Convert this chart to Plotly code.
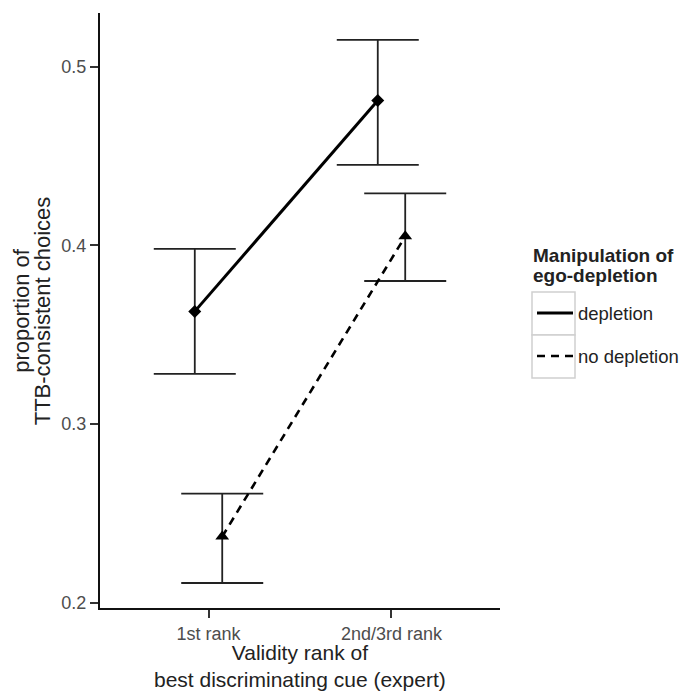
import plotly.graph_objects as go

categories = ["1st rank", "2nd/3rd rank"]
groups = ["depletion", "no depletion"]
means = {"depletion": [0.363, 0.481], "no depletion": [0.237, 0.405]}
upper = {"depletion": [0.398, 0.515], "no depletion": [0.261, 0.429]}
lower = {"depletion": [0.328, 0.445], "no depletion": [0.211, 0.380]}
y_ticks = [0.2, 0.3, 0.4, 0.5]
legend_title = ["Manipulation of", "ego-depletion"]

dodge = {"depletion": -0.075, "no depletion": 0.075}
dash = {"depletion": "solid", "no depletion": "8px,6px"}
lw = {"depletion": 3, "no depletion": 2.6}
symbol = {"depletion": "diamond", "no depletion": "triangle-up"}
msize = {"depletion": 10, "no depletion": 12}

FONT = "Liberation Sans, Arial, sans-serif"

fig = go.Figure()
for g in groups:
    xs = [i + 1 + dodge[g] for i in range(len(categories))]
    m = means[g]
    fig.add_trace(go.Scatter(
        x=xs, y=m, mode="markers", showlegend=False,
        marker=dict(symbol=symbol[g], size=msize[g], color="black"),
        error_y=dict(type="data", symmetric=False,
                     array=[u - v for u, v in zip(upper[g], m)],
                     arrayminus=[v - l for v, l in zip(m, lower[g])],
                     width=41, thickness=1.8, color="#222"),
    ))
for g in groups:
    xs = [i + 1 + dodge[g] for i in range(len(categories))]
    fig.add_trace(go.Scatter(
        x=xs, y=means[g], mode="lines", name=g, legendgroup=g,
        line=dict(color="black", width=lw[g], dash=dash[g]),
    ))

axis_common = dict(showline=True, linecolor="#111", linewidth=2,
                   ticks="outside", ticklen=8, tickwidth=1.5, tickcolor="#333",
                   showgrid=False, zeroline=False, automargin=False,
                   tickfont=dict(size=18, color="#4d4d4d", family=FONT))

fig.update_layout(
    width=691, height=692,
    margin=dict(l=92, r=199, t=5, b=92),
    plot_bgcolor="white", paper_bgcolor="white",
    font=dict(family=FONT, color="#222"),
    xaxis=dict(range=[0.407, 2.593], tickvals=[1, 2], ticktext=categories,
               **axis_common),
    yaxis=dict(range=[0.197, 0.530], tickvals=y_ticks,
               ticktext=[f"{v:.1f}" for v in y_ticks], **axis_common),
    legend=dict(x=1.08, y=0.527, xanchor="left", yanchor="top",
                bgcolor="rgba(0,0,0,0)",
                font=dict(size=18.5, color="#222", family=FONT),
                tracegroupgap=16, itemwidth=36),
)

# legend title (two lines, tight spacing)
for i, t in enumerate(legend_title):
    fig.add_annotation(text=f"<b>{t}</b>", xref="paper", yref="paper",
                       x=1.0775, y=0.593 - i * 0.0336, showarrow=False,
                       font=dict(size=19, color="#222", family=FONT),
                       xanchor="left", yanchor="middle")
# legend key boxes
for i in range(len(groups)):
    fig.add_shape(type="rect", xref="paper", yref="paper", layer="below",
                  x0=1.08, x1=1.1875, y0=0.531 - (i + 1) * 0.0722, y1=0.531 - i * 0.0722,
                  line=dict(color="#d0d0d0", width=1.5), fillcolor="white")

# axis titles
title_font = dict(size=21, color="#222", family=FONT)
fig.add_annotation(text="Validity rank of<br>best discriminating cue (expert)",
                   xref="paper", yref="paper", x=0.5, y=-0.097, showarrow=False,
                   font=title_font, xanchor="center", yanchor="middle", borderpad=0)
fig.add_annotation(text="proportion of", xref="paper", yref="paper",
                   x=-0.197, y=0.5, showarrow=False, font=dict(title_font, size=22),
                   textangle=-90, xanchor="center", yanchor="middle")
fig.add_annotation(text="TTB-consistent choices", xref="paper", yref="paper",
                   x=-0.143, y=0.5, showarrow=False, font=dict(title_font, size=22),
                   textangle=-90, xanchor="center", yanchor="middle")

fig.write_html("out.html")
